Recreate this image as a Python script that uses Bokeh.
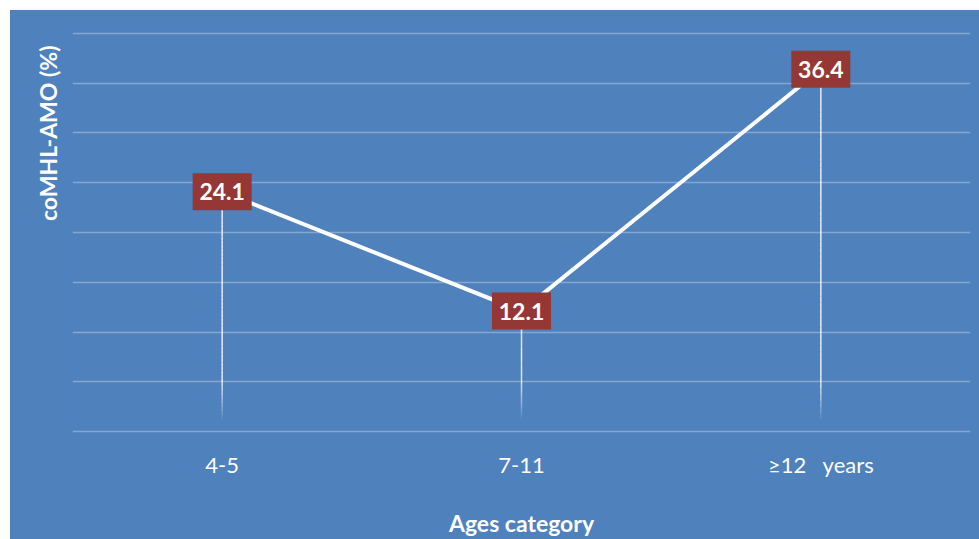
import numpy as np
from bokeh.plotting import figure
from bokeh.models import FactorRange, Range1d, SingleIntervalTicker, Title
from bokeh.core.properties import value
from bokeh.embed import file_html
from bokeh.resources import INLINE

# ---- data ----
categories = ["4-5", "7-11", "≥12   years"]
values = [24.1, 12.1, 36.4]
y_label = "coMHL-AMO (%)"
x_label = "Ages category"
y_min, y_max, y_step = 0, 40, 5

BG = "#4F81BD"
BOX = "#953735"
FONT = "Lato"

# keep the runs of spaces visible in SVG text
factors = [c.replace(" ", "\u00a0") for c in categories]

p = figure(x_range=FactorRange(*factors), y_range=Range1d(y_min - 0.3, y_max + 0.3),
           width=969, height=529, margin=(10, 0, 0, 10),
           output_backend="svg", toolbar_location=None,
           min_border_left=62, min_border_right=9, min_border_top=20, min_border_bottom=104,
           background_fill_color=BG, border_fill_color=BG, outline_line_color=None,
           styles={"background-color": BG})

# axes
p.yaxis.visible = False
p.yaxis.ticker = SingleIntervalTicker(interval=y_step)
p.ygrid.ticker = SingleIntervalTicker(interval=y_step)
p.ygrid.grid_line_color = "white"
p.ygrid.grid_line_alpha = 0.3
p.ygrid.grid_line_width = 1.5
p.xgrid.visible = False

xa = p.xaxis[0]
xa.axis_line_color = None
xa.major_tick_line_color = None
xa.minor_tick_line_color = None
xa.major_label_standoff = 10
xa.major_label_text_color = "white"
xa.major_label_text_font = FONT
xa.major_label_text_font_size = "22px"
xa.axis_label = x_label
xa.axis_label_standoff = 28
xa.axis_label_text_color = "white"
xa.axis_label_text_font = FONT
xa.axis_label_text_font_style = "bold"
xa.axis_label_text_font_size = "23px"

# fading drop lines
x0s, y0s, y1s, alphas = [], [], [], []
for c, v in zip(factors, values):
    edges = np.linspace(0, v, 60)
    for a, b in zip(edges[:-1], edges[1:]):
        mid = (a + b) / 2
        x0s.append(c); y0s.append(a); y1s.append(b)
        alphas.append(float(np.clip((mid - 1.0) / 4.0, 0, 1)) * 0.85)
p.segment(x0=x0s, y0=y0s, x1=x0s, y1=y1s, line_color="white", line_width=1.5, line_alpha=alphas)

# main line
p.line(factors, values, line_color="white", line_width=4)

# label boxes
p.rect(x=factors, y=values, width=59, height=37, width_units="screen", height_units="screen",
       fill_color=BOX, line_color=None)
p.text(x=factors, y=values, text=[f"{v:.1f}" for v in values],
       text_align="center", text_baseline="middle", text_color="white",
       text_font=value(FONT), text_font_style="bold", text_font_size="23px")

# y title
p.add_layout(Title(text=y_label, align="right", offset=15, standoff=21, text_color="white",
                   text_font=FONT, text_font_style="bold", text_font_size="23px"), "left")

open("out.html", "w").write(file_html(p, INLINE))
